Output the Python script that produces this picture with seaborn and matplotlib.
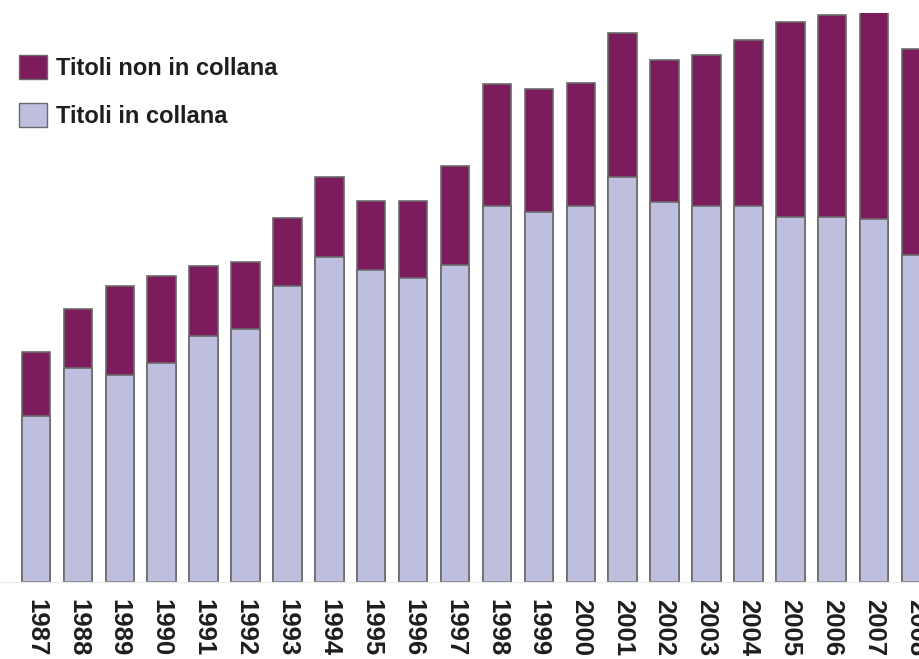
import matplotlib
matplotlib.use("Agg")
import matplotlib.pyplot as plt
import seaborn as sns
import pandas as pd
from matplotlib.patches import Patch

years = [str(y) for y in range(1987, 2009)]
titoli_in_collana = [166, 214, 207, 219, 246, 253, 296, 325, 312, 304, 317,
                     376, 370, 376, 405, 380, 376, 376, 365, 365, 363, 327]
titoli_non_in_collana = [64, 59, 89, 87, 70, 67, 68, 80, 69, 77, 99,
                         122, 123, 123, 144, 142, 151, 166, 195, 202, 207, 206]
legend_labels = ["Titoli non in collana", "Titoli in collana"]

color_non = "#7D1C5C"
color_in = "#BEBEDF"
edge = "#6a6a6a"

sns.set_theme(style="white")
plt.rcParams["font.family"] = ["Liberation Sans", "DejaVu Sans"]

df = pd.DataFrame({
    "anno": years,
    "in_collana": titoli_in_collana,
    "non_in_collana": titoli_non_in_collana,
})
df["totale"] = df["in_collana"] + df["non_in_collana"]

fig = plt.figure(figsize=(9.19, 6.59), dpi=100)
ax = fig.add_axes([0, 1 - 582 / 659, 1, (582 - 13) / 659])

sns.barplot(data=df, x="anno", y="totale", order=years, color=color_non,
            saturation=1, width=0.68, edgecolor=edge, linewidth=1.2, ax=ax)
sns.barplot(data=df, x="anno", y="in_collana", order=years, color=color_in,
            saturation=1, width=0.68, edgecolor=edge, linewidth=1.2, ax=ax)

pitch = 41.9
ax.set_xlim(-36 / pitch, 21 + 3 / pitch)
ax.set_ylim(0, 569)
ax.set_xlabel("")
ax.set_ylabel("")
ax.set_yticks([])
for s in ["top", "right", "left"]:
    ax.spines[s].set_visible(False)
ax.spines["bottom"].set_color("#ececec")
ax.spines["bottom"].set_linewidth(1)
ax.tick_params(axis="x", length=0, pad=12)
for lab in ax.get_xticklabels():
    lab.set_rotation(270)
    lab.set_fontsize(18.5)
    lab.set_fontweight("bold")
    lab.set_color("#1e1e1e")
    lab.set_va("top")
    lab.set_ha("center")

handles = [Patch(facecolor=color_non, edgecolor=edge, linewidth=1),
           Patch(facecolor=color_in, edgecolor=edge, linewidth=1)]
fs = 17
px = fs * 100 / 72
fig.legend(handles, legend_labels, loc="upper left",
           bbox_to_anchor=(19 / 919, 1 - 55 / 659), frameon=False,
           borderpad=0, borderaxespad=0,
           handlelength=28 / px, handleheight=28 / px,
           handletextpad=9 / px, labelspacing=23 / px,
           prop={"size": fs, "weight": "bold"}, labelcolor="#1e1e1e")

fig.savefig("out.png", dpi=100, facecolor="white")
